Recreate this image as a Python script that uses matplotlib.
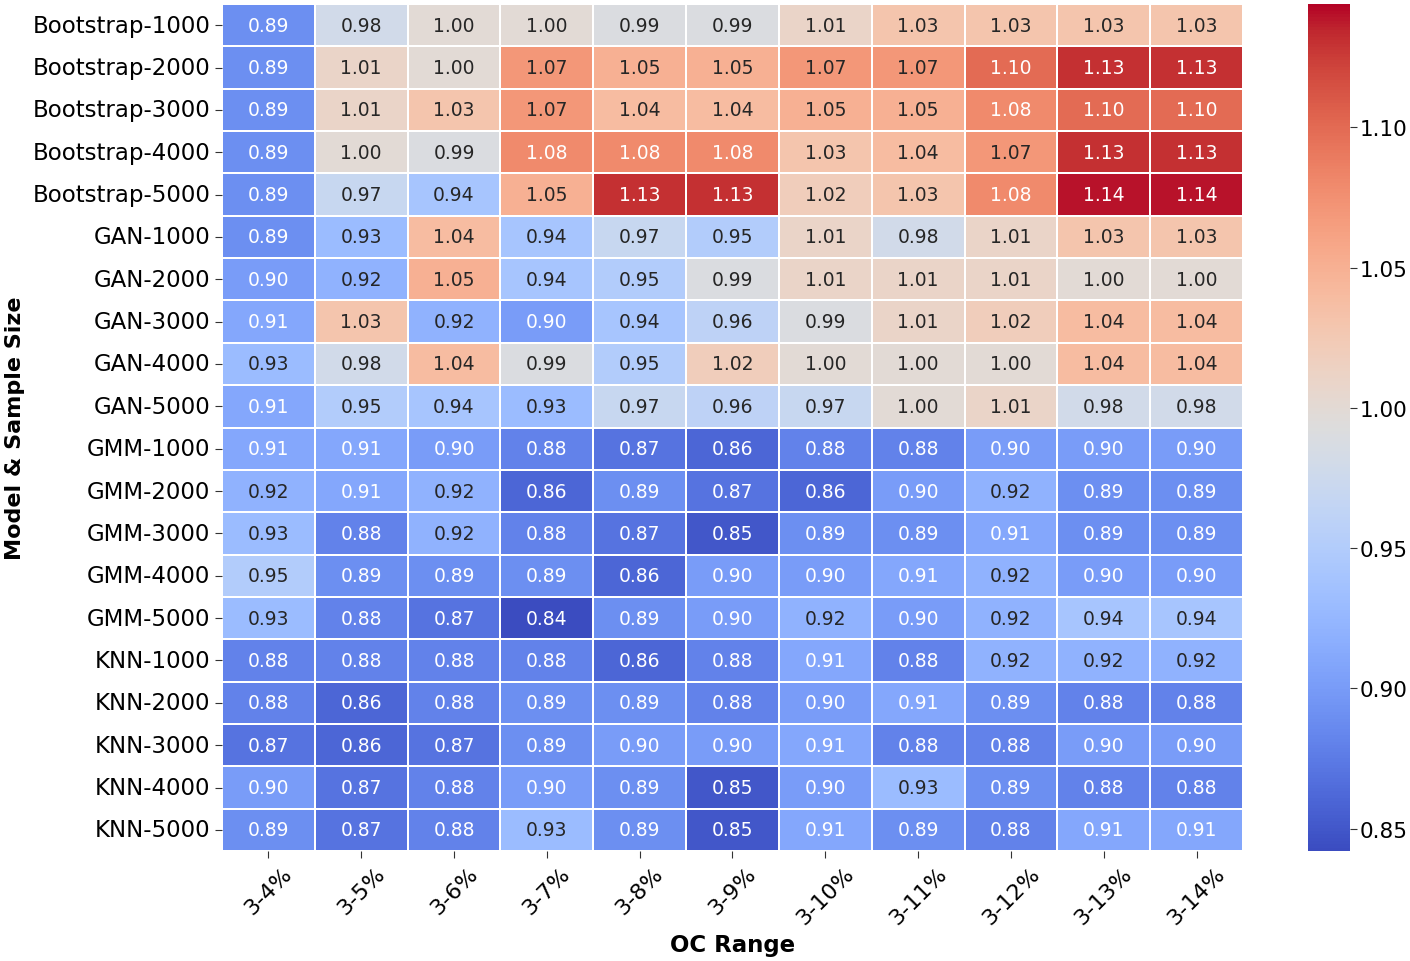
import numpy as np
import matplotlib
matplotlib.use("Agg")
import matplotlib.pyplot as plt
import seaborn as sns

models = ["Bootstrap-1000", "Bootstrap-2000", "Bootstrap-3000", "Bootstrap-4000", "Bootstrap-5000",
          "GAN-1000", "GAN-2000", "GAN-3000", "GAN-4000", "GAN-5000",
          "GMM-1000", "GMM-2000", "GMM-3000", "GMM-4000", "GMM-5000",
          "KNN-1000", "KNN-2000", "KNN-3000", "KNN-4000", "KNN-5000"]
oc_ranges = ["3-4%", "3-5%", "3-6%", "3-7%", "3-8%", "3-9%", "3-10%", "3-11%", "3-12%", "3-13%", "3-14%"]

bootstrap = [
    [0.89, 0.98, 1.00, 1.00, 0.99, 0.99, 1.01, 1.03, 1.03, 1.03, 1.03],
    [0.89, 1.01, 1.00, 1.07, 1.05, 1.05, 1.07, 1.07, 1.10, 1.13, 1.13],
    [0.89, 1.01, 1.03, 1.07, 1.04, 1.04, 1.05, 1.05, 1.08, 1.10, 1.10],
    [0.89, 1.00, 0.99, 1.08, 1.08, 1.08, 1.03, 1.04, 1.07, 1.13, 1.13],
    [0.89, 0.97, 0.94, 1.05, 1.13, 1.13, 1.02, 1.03, 1.08, 1.14, 1.14],
]
gan = [
    [0.89, 0.93, 1.04, 0.94, 0.97, 0.95, 1.01, 0.98, 1.01, 1.03, 1.03],
    [0.90, 0.92, 1.05, 0.94, 0.95, 0.99, 1.01, 1.01, 1.01, 1.00, 1.00],
    [0.91, 1.03, 0.92, 0.90, 0.94, 0.96, 0.99, 1.01, 1.02, 1.04, 1.04],
    [0.93, 0.98, 1.04, 0.99, 0.95, 1.02, 1.00, 1.00, 1.00, 1.04, 1.04],
    [0.91, 0.95, 0.94, 0.93, 0.97, 0.96, 0.97, 1.00, 1.01, 0.98, 0.98],
]
gmm = [
    [0.91, 0.91, 0.90, 0.88, 0.87, 0.86, 0.88, 0.88, 0.90, 0.90, 0.90],
    [0.92, 0.91, 0.92, 0.86, 0.89, 0.87, 0.86, 0.90, 0.92, 0.89, 0.89],
    [0.93, 0.88, 0.92, 0.88, 0.87, 0.85, 0.89, 0.89, 0.91, 0.89, 0.89],
    [0.95, 0.89, 0.89, 0.89, 0.86, 0.90, 0.90, 0.91, 0.92, 0.90, 0.90],
    [0.93, 0.88, 0.87, 0.84, 0.89, 0.90, 0.92, 0.90, 0.92, 0.94, 0.94],
]
knn = [
    [0.88, 0.88, 0.88, 0.88, 0.86, 0.88, 0.91, 0.88, 0.92, 0.92, 0.92],
    [0.88, 0.86, 0.88, 0.89, 0.89, 0.88, 0.90, 0.91, 0.89, 0.88, 0.88],
    [0.87, 0.86, 0.87, 0.89, 0.90, 0.90, 0.91, 0.88, 0.88, 0.90, 0.90],
    [0.90, 0.87, 0.88, 0.90, 0.89, 0.85, 0.90, 0.93, 0.89, 0.88, 0.88],
    [0.89, 0.87, 0.88, 0.93, 0.89, 0.85, 0.91, 0.89, 0.88, 0.91, 0.91],
]

data = np.array(bootstrap + gan + gmm + knn)

fig = plt.figure(figsize=(14.1, 9.62), dpi=100)
ax = fig.add_axes([0.1574, 0.1143, 0.7242, 0.8805])
cax = fig.add_axes([0.9277, 0.1143, 0.0298, 0.8805])

sns.heatmap(data, ax=ax, cbar_ax=cax, cmap="coolwarm", vmin=0.842, vmax=1.144,
            annot=True, fmt=".2f", annot_kws={"fontsize": 13.5},
            linewidths=1.2, linecolor="white",
            xticklabels=oc_ranges, yticklabels=models)

ax.set_xticklabels(oc_ranges, rotation=45, ha="center", fontsize=16)
ax.set_yticklabels(models, rotation=0, fontsize=16.5)
ax.tick_params(axis="both", length=5, color="#333333")
ax.set_xlabel("OC Range", fontsize=16.5, fontweight="bold", labelpad=4)
ax.set_ylabel("Model & Sample Size", fontsize=16, fontweight="bold", labelpad=5)
cax.tick_params(labelsize=15.5, length=5, pad=2, color="#333333")
cax.set_yticks([0.85, 0.90, 0.95, 1.00, 1.05, 1.10])

fig.savefig("out.png", dpi=100)
